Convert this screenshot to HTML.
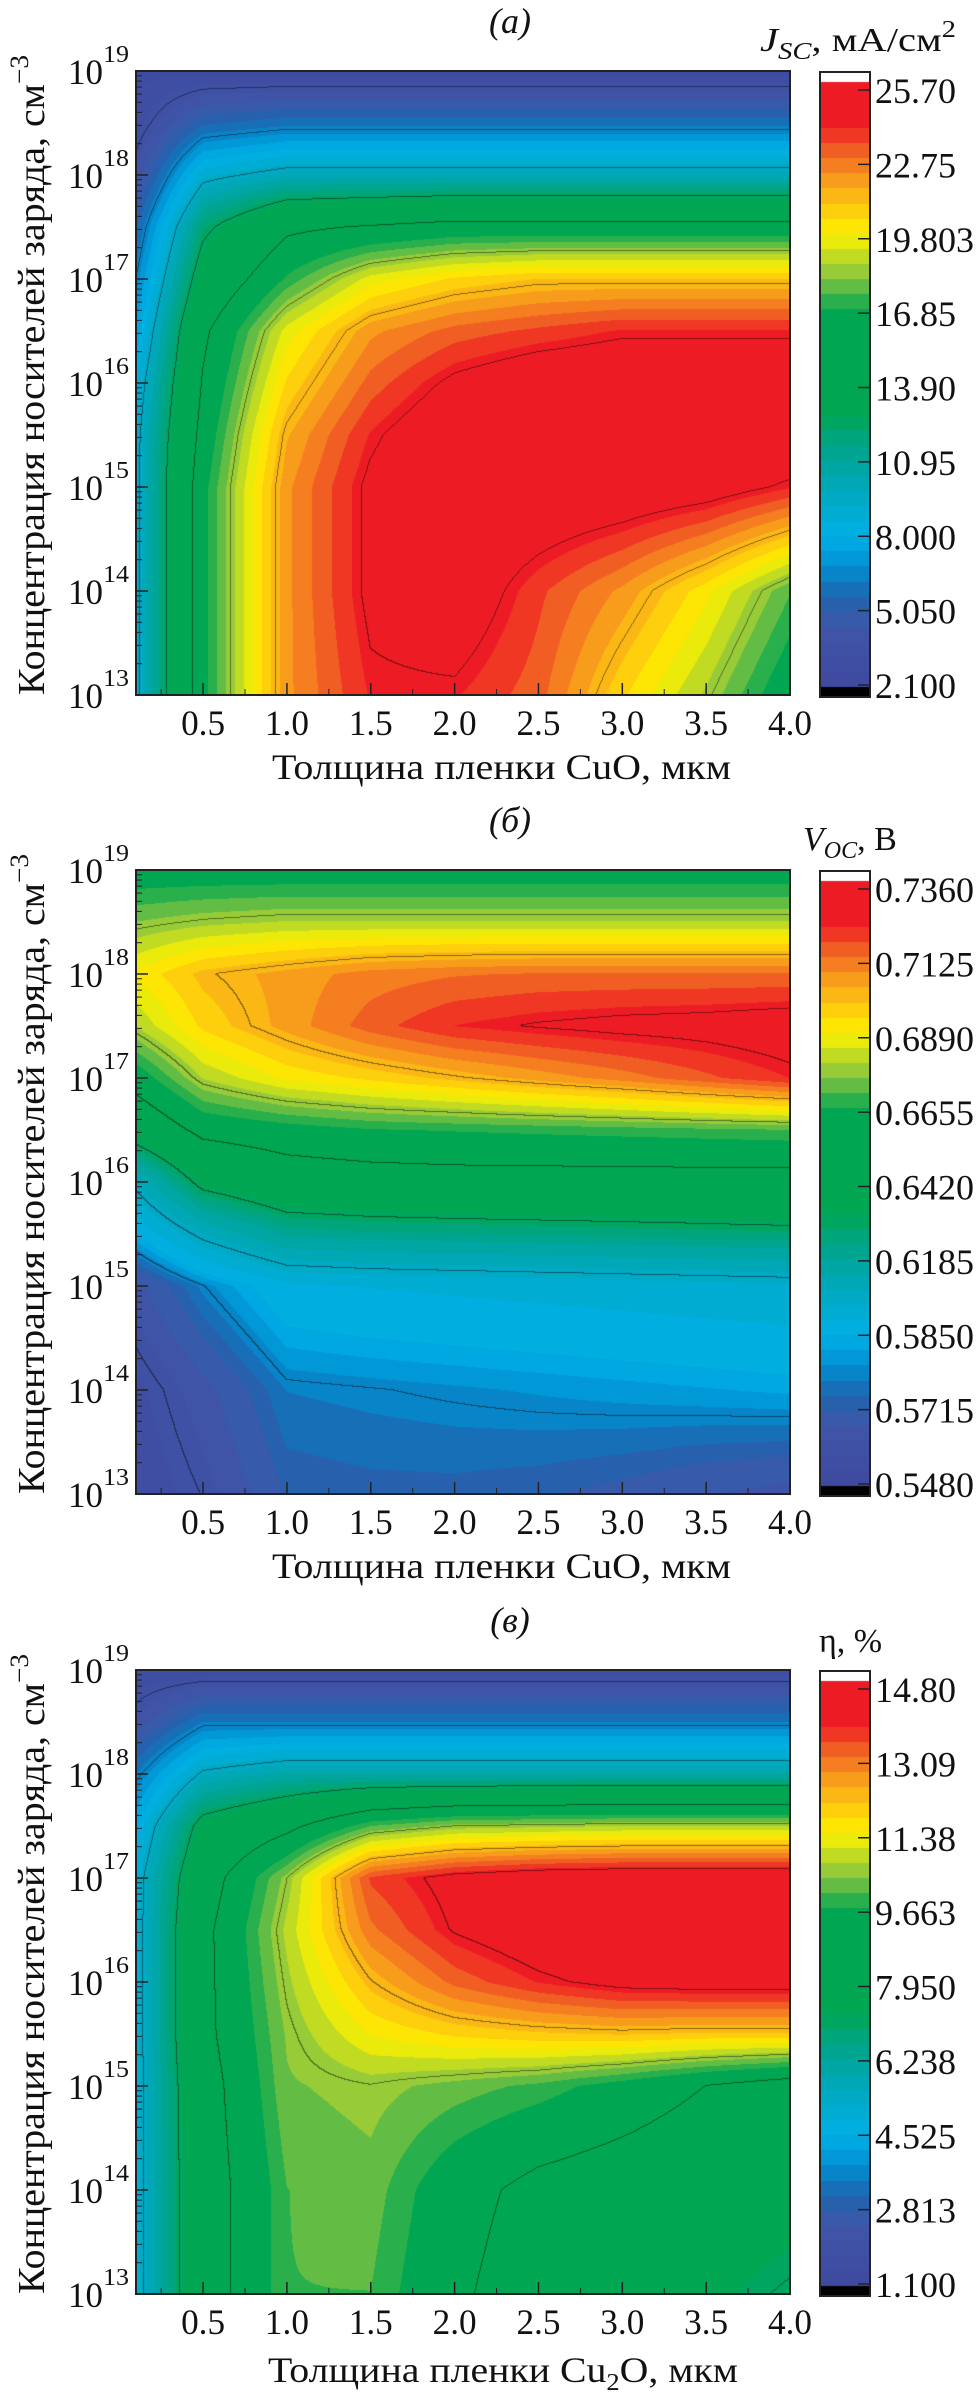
<!DOCTYPE html>
<html><head><meta charset="utf-8">
<style>
html,body{margin:0;padding:0;background:#fff;}
#page{position:relative;width:979px;height:2404px;background:#fff;overflow:hidden;}
canvas{position:absolute;}
svg{position:absolute;left:0;top:0;}
text{font-family:"Liberation Serif","Times New Roman",serif;fill:#111;}
</style></head>
<body>
<div id="page">
<canvas id="cA" width="654" height="624" style="left:136px;top:71px"></canvas>
<canvas id="cB" width="654" height="624" style="left:136px;top:870px"></canvas>
<canvas id="cC" width="654" height="624" style="left:136px;top:1670px"></canvas>
<canvas id="bA" width="50" height="625" style="left:820px;top:72px"></canvas>
<canvas id="bB" width="50" height="625" style="left:820px;top:871px"></canvas>
<canvas id="bC" width="50" height="625" style="left:820px;top:1671px"></canvas>
<svg id="ov" width="979" height="2404"></svg>
</div>
<script>
const xs=[0.1,0.5,1,1.5,2,2.5,3,3.5,4];
const ys=[13,14,15,15.5,16,16.5,17,17.5,18,18.5,19];
const jscValues=[
[9,16.5,22,24,24,23,20.5,18.5,16],
[9,16.5,22,24.5,25.3,23.5,22,20,17.5],
[9,16.5,22,24.5,25.6,25.6,25.4,25,24],
[9,16,21.5,24,25.5,25.6,25.6,25.6,25.6],
[8.5,15.5,20.5,23,24.5,25.3,25.5,25.5,25.5],
[7.5,15,19.5,22,23,23.5,24,24,24],
[6.5,13.5,17,19.5,20.5,21,21,21,21],
[5.5,12,15,15.5,16,16,16,16,16],
[4,9,10,10,10,10,10,10,10],
[3,5.5,6,6,6,6,6,6,6],
[2.5,2.5,2.5,2.5,2.5,2.5,2.5,2.5,2.5]];
const vocValues=[
[.553,.560,.572,.573,.573,.572,.570,.567,.565],
[.556,.565,.577,.578,.579,.580,.581,.582,.583],
[.565,.578,.590,.592,.593,.594,.595,.596,.597],
[.585,.605,.620,.622,.623,.624,.625,.626,.627],
[.605,.635,.645,.647,.648,.648,.648,.648,.648],
[.640,.658,.662,.665,.666,.667,.668,.669,.670],
[.660,.680,.690,.695,.700,.705,.710,.716,.722],
[.680,.695,.705,.715,.722,.725,.727,.728,.730],
[.690,.700,.705,.710,.712,.713,.713,.713,.713],
[.675,.678,.680,.680,.680,.680,.680,.680,.680],
[.660,.660,.660,.660,.660,.660,.660,.660,.660]];
const effValues=[
[5,8.2,10,10,9,8.2,7.8,7.4,7],
[5,8.2,10,10.2,9.2,8.5,8.2,7.9,7.6],
[5,8.3,10.3,10.5,10.2,9.9,9.4,8.8,8.3],
[5,8.5,10.4,11.4,11.8,12,12.1,12,12],
[5,8.5,10.6,12.2,13.2,13.8,14.2,14.3,14.3],
[5,8.5,10.8,13,14,14.5,14.7,14.7,14.7],
[5,8.2,10.5,13.5,14.2,14.5,14.6,14.6,14.6],
[4.5,7.5,8.5,10,10.5,10.6,10.7,10.7,10.7],
[3.5,5.5,6,6,6,6,6,6,6],
[2.2,3.5,3.5,3.5,3.5,3.5,3.5,3.5,3.5],
[1.5,1.5,1.5,1.5,1.5,1.5,1.5,1.5,1.5]];
const jscTicks=['25.70','22.75','19.803','16.85','13.90','10.95','8.000','5.050','2.100'];
const vocTicks=['0.7360','0.7125','0.6890','0.6655','0.6420','0.6185','0.5850','0.5715','0.5480'];
const effTicks=['14.80','13.09','11.38','9.663','7.950','6.238','4.525','2.813','1.100'];
const xTickLabels=['0.5','1.0','1.5','2.0','2.5','3.0','3.5','4.0'];
const yTickExps=['19','18','17','16','15','14','13'];

const XMIN=0.1,XMAX=4,YMIN=13,YMAX=19,PL=136,PW=654,PH=624;
const stops=[[0,[63,72,160]],[0.10,[63,86,168]],[0.15,[31,100,176]],[0.20,[0,144,208]],[0.25,[0,176,230]],[0.32,[0,168,192]],[0.40,[0,164,138]],[0.45,[0,166,81]],[0.62,[0,166,81]],[0.68,[140,198,63]],[0.75,[255,242,0]],[0.82,[251,177,23]],[0.88,[242,106,36]],[0.93,[237,28,36]],[1,[237,28,36]]];
function cmap(t){t=Math.max(0,Math.min(0.9999,t));t=(Math.floor(t*40)+0.5)/40;
 for(let i=0;i<stops.length-1;i++){const a=stops[i],b=stops[i+1];if(t>=a[0]&&t<=b[0]){const f=(t-a[0])/(b[0]-a[0]);return [0,1,2].map(k=>Math.round(a[1][k]+(b[1][k]-a[1][k])*f));}}
 return stops[stops.length-1][1];}
function norm(v,ticks){const lv=ticks.map(parseFloat).reverse();// ascending
 if(v<=lv[0])return 0;if(v>=lv[8])return 1;
 for(let i=0;i<8;i++){if(v<=lv[i+1])return (i+(v-lv[i])/(lv[i+1]-lv[i]))/8;}return 1;}
function seg(arr,v){let i=0;while(i<arr.length-2&&v>arr[i+1])i++;return [i,(v-arr[i])/(arr[i+1]-arr[i])];}
function interp(grid,x,y){const [i,fx]=seg(xs,x),[j,fy]=seg(ys,y);
 const a=grid[j][i],b=grid[j][i+1],c=grid[j+1][i],d=grid[j+1][i+1];
 return (a*(1-fx)+b*fx)*(1-fy)+(c*(1-fx)+d*fx)*fy;}
function drawMap(id,grid,ticks){const c=document.getElementById(id),ctx=c.getContext('2d');const im=ctx.createImageData(PW,PH);
 const T=new Float32Array(PW*PH);
 for(let py=0;py<PH;py++){const y=YMAX-(py+0.5)/PH*(YMAX-YMIN);
  for(let px=0;px<PW;px++){const x=XMIN+(px+0.5)/PW*(XMAX-XMIN);T[py*PW+px]=norm(interp(grid,x,y),ticks);}}
 for(let py=0;py<PH;py++)for(let px=0;px<PW;px++){const t=T[py*PW+px];const col=cmap(t);const o=(py*PW+px)*4;
  let line=false;const L=Math.floor(t*8-0.5);
  if(px<PW-1&&Math.floor(T[py*PW+px+1]*8-0.5)!==L)line=true;
  if(py<PH-1&&Math.floor(T[(py+1)*PW+px]*8-0.5)!==L)line=true;
  const f=line?0.55:1;
  im.data[o]=col[0]*f;im.data[o+1]=col[1]*f;im.data[o+2]=col[2]*f;im.data[o+3]=255;}
 ctx.putImageData(im,0,0);}
function drawBar(id){const c=document.getElementById(id),ctx=c.getContext('2d');
 ctx.fillStyle='#fff';ctx.fillRect(0,0,50,625);
 const top=10,bot=615;for(let py=top;py<bot;py++){const col=cmap(1-(py-top)/(bot-top));ctx.fillStyle='rgb('+col+')';ctx.fillRect(0,py,50,1);}
 ctx.fillStyle='#000';ctx.fillRect(0,bot,50,10);}
drawMap('cA',jscValues,jscTicks);drawMap('cB',vocValues,vocTicks);drawMap('cC',effValues,effTicks);
drawBar('bA');drawBar('bB');drawBar('bC');

const NS='http://www.w3.org/2000/svg',ov=document.getElementById('ov');
function el(tag,attrs,txt){const e=document.createElementNS(NS,tag);for(const k in attrs)e.setAttribute(k,attrs[k]);if(txt!==undefined)e.textContent=txt;ov.appendChild(e);return e;}
function xPix(v){return PL+(v-XMIN)/(XMAX-XMIN)*PW;}
function numLen(s){let w=0;for(const ch of s)w+=(ch==='.')?9:18;return w;}
const panels=[{top:71,title:'(а)',ticks:jscTicks,cb:'jsc',xsub:false},{top:870,title:'(б)',ticks:vocTicks,cb:'voc',xsub:false},{top:1670,title:'(в)',ticks:effTicks,cb:'eff',xsub:true}];
panels.forEach((p,pi)=>{const T=p.top,B=T+PH;
 const fr=el('rect',{x:PL,y:T,width:PW,height:PH,fill:'none',stroke:'#222','stroke-width':2});
 
 const cf=el('rect',{x:820,y:T+1,width:50,height:625,fill:'none',stroke:'#222','stroke-width':2});
 
 yTickExps.forEach((e,k)=>{const dec=YMAX-k;const y=T+(YMAX-dec)/(YMAX-YMIN)*PH;
  el('line',{x1:PL,x2:PL+12,y1:y,y2:y,stroke:'#222','stroke-width':1.5});
  if(dec>YMIN){for(let m=2;m<=9;m++){const yy=T+(YMAX-(dec-1+Math.log10(m)))/(YMAX-YMIN)*PH;el('line',{x1:PL,x2:PL+6,y1:yy,y2:yy,stroke:'#222','stroke-width':1});}}
  const t=el('text',{x:68,y:y+13,'font-size':36,textLength:35,lengthAdjust:'spacingAndGlyphs'},'10');
  
  const s=el('text',{x:103,y:y-9,'font-size':24,textLength:26,lengthAdjust:'spacingAndGlyphs'},e);
  
 });
 for(let v=0.25;v<=4.001;v+=0.25){if(v<XMIN)continue;const x=xPix(v);const major=Math.abs(v*2-Math.round(v*2))<1e-6;el('line',{x1:x,x2:x,y1:B,y2:B-(major?12:6),stroke:'#222','stroke-width':major?1.5:1});}
 xTickLabels.forEach(l=>{const t=el('text',{x:xPix(parseFloat(l))-22,y:B+40,'font-size':36,textLength:44,lengthAdjust:'spacingAndGlyphs'},l);
  });
 p.ticks.forEach((l,k)=>{const y=T+19+k*(595/8);el('line',{x1:858,x2:870,y1:y,y2:y,stroke:'#222','stroke-width':1.5});
  const t=el('text',{x:875,y:y+13,'font-size':36,textLength:numLen(l),lengthAdjust:'spacingAndGlyphs'},l);});
 const pt=el('text',{x:510,y:T-38,'font-size':36,'text-anchor':'middle','font-style':'italic'},p.title);
 
 let xt;
 if(p.xsub){xt=el('text',{x:268,y:B+88,'font-size':36,textLength:470,lengthAdjust:'spacingAndGlyphs'});xt.innerHTML='Толщина пленки Cu<tspan font-size="24" dy="8">2</tspan><tspan dy="-8">O, мкм</tspan>';}
 else{xt=el('text',{x:272,y:B+84,'font-size':36,textLength:459,lengthAdjust:'spacingAndGlyphs'},'Толщина пленки CuO, мкм');}
 
 const cy=T+302;
 const yt=el('text',{x:-322,y:0,'font-size':38,transform:'translate(44,'+cy+') rotate(-90)',textLength:640,lengthAdjust:'spacingAndGlyphs'});
 yt.innerHTML='Концентрация носителей заряда, см<tspan font-size="26" dy="-16">−3</tspan>';
 
 let ct;
 if(p.cb==='jsc'){ct=el('text',{x:760,y:T-20,'font-size':34,textLength:196,lengthAdjust:'spacingAndGlyphs'});ct.innerHTML='<tspan font-style="italic">J</tspan><tspan font-style="italic" font-size="24" dy="8">SC</tspan><tspan dy="-8">, мА/см</tspan><tspan font-size="24" dy="-14">2</tspan>';}
 else if(p.cb==='voc'){ct=el('text',{x:803,y:T-20,'font-size':34});ct.innerHTML='<tspan font-style="italic">V</tspan><tspan font-style="italic" font-size="24" dy="8">OC</tspan><tspan dy="-8">, В</tspan>';}
 else{ct=el('text',{x:819,y:T-18,'font-size':34},'η, %');}
 
});
</script>
</body></html>
